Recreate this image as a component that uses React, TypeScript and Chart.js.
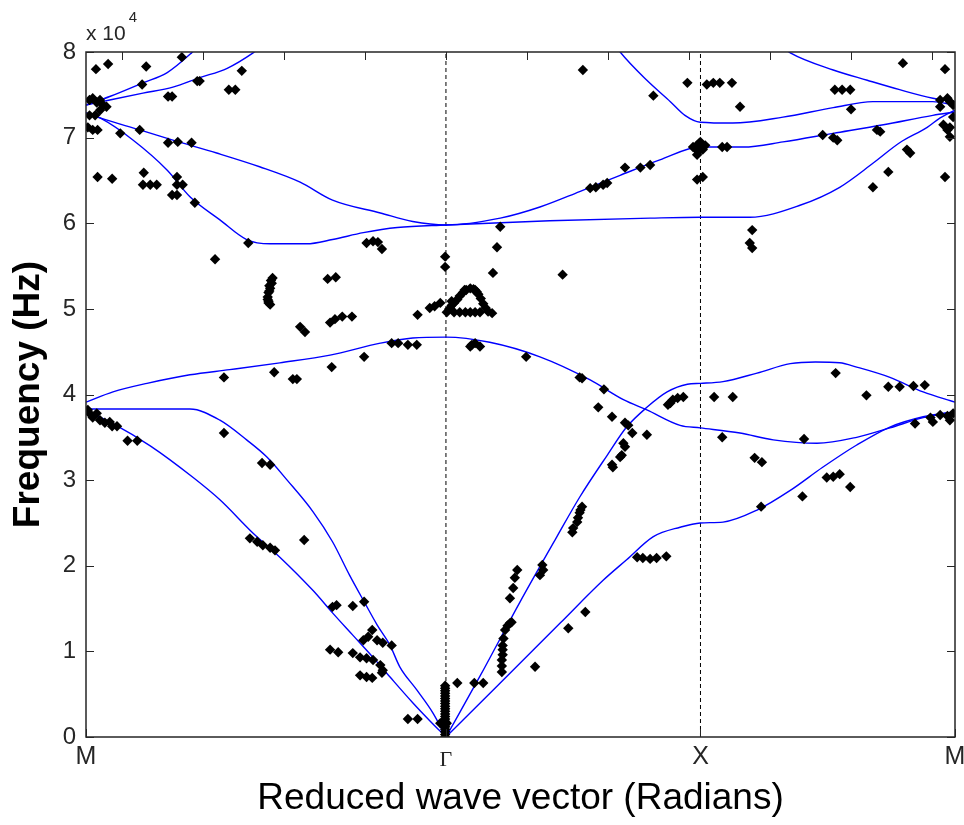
import React, { useEffect, useRef } from 'react';
import { Chart, registerables } from 'chart.js';

Chart.register(...registerables);

type P = [number, number];

// Symmetry points (reduced wave vector, radians)
const M_LEFT = -Math.SQRT2 * Math.PI;
const GAMMA = 0;
const X_POINT = Math.PI;
const M_RIGHT = 2 * Math.PI;

const symmetryPositions = [M_LEFT, GAMMA, X_POINT, M_RIGHT];
const symmetryLabels = ['M', 'Γ', 'X', 'M'];
const topTickValues = [-4, -3, -2, -1, 0, 1, 2, 3, 4, 5, 6];
const freqTicks = [0, 10000, 20000, 30000, 40000, 50000, 60000, 70000, 80000];

// Computed dispersion bands (Hz)
const band1: P[] = [
  [M_LEFT, 38100], [-4.11, 36600], [-3.65, 34000], [-3.12, 30300], [-2.79, 27700],
  [-2.38, 23800], [-2.05, 21000], [-1.64, 17100], [-1.4, 14500], [-1.15, 11900],
  [-0.9, 9300], [-0.69, 7000], [-0.41, 4000], [-0.2, 1900], [0, 0],
];
const band2: P[] = [
  [M_LEFT, 38300], [-3.78, 38300], [-3.16, 38300], [-2.79, 37000], [-2.46, 34700],
  [-2.21, 32700], [-1.96, 30000], [-1.64, 26300], [-1.4, 22800], [-1.19, 18900],
  [-1.01, 15800], [-0.85, 13100], [-0.69, 10700], [-0.57, 8200], [-0.36, 5500],
  [-0.16, 2800], [0, 0],
];
const band3: P[] = [
  [M_LEFT, 39100], [-4.11, 40300], [-3.69, 41300], [-3.16, 42300], [-2.67, 42900],
  [-2.05, 43700], [-1.43, 44600], [-0.81, 46000], [-0.41, 46600], [0, 46700],
  [0.54, 46100], [1.16, 44400], [1.78, 41700], [2.19, 39400], [2.48, 38200],
  [2.89, 36400], [3.14, 36100], [3.63, 35500], [4.04, 34700], [4.58, 34300],
  [5.07, 35000], [5.48, 36100], [5.89, 37300], [M_RIGHT, 38000],
];
const band4: P[] = [
  [0, 0], [0.67, 6300], [1.41, 13300], [1.94, 18300], [2.23, 20700], [2.56, 23400],
  [2.89, 24500], [3.14, 25000], [3.42, 25100], [3.84, 26500], [4.25, 28800],
  [4.65, 31500], [5.07, 34100], [5.48, 36200], [5.89, 37400], [M_RIGHT, 38000],
];
const band5: P[] = [
  [0, 0], [0.42, 7100], [0.91, 15700], [1.37, 23400], [1.65, 28000], [1.99, 32900],
  [2.23, 36200], [2.48, 38500], [2.73, 40300], [2.98, 41200], [3.14, 41300],
  [3.42, 41500], [3.84, 42500], [4.25, 43600], [4.56, 43800], [4.86, 43700],
  [5.07, 43200], [5.48, 42000], [5.89, 40300], [M_RIGHT, 39100],
];
const band6: P[] = [
  [M_LEFT, 72900], [-4.27, 72300], [-3.86, 69700], [-3.44, 66200], [-3.16, 63100],
  [-2.79, 60400], [-2.46, 58100], [-2.17, 57600], [-1.72, 57600], [-1.4, 58100],
  [-1.02, 58900], [-0.6, 59500], [0, 59800], [1.28, 60300], [2.52, 60600],
  [3.14, 60700], [3.75, 60700], [4.37, 62100], [4.86, 64200], [5.27, 67000],
  [5.6, 69400], [5.94, 71200], [6.1, 72300], [M_RIGHT, 73200],
];
const band7: P[] = [
  [M_LEFT, 72900], [-4.27, 72300], [-3.78, 70900], [-3.37, 69700], [-2.83, 68200],
  [-2.3, 66600], [-1.8, 64800], [-1.4, 62700], [-0.81, 61200], [-0.41, 60200],
  [0, 59800], [0.67, 60600], [1.16, 61900], [1.65, 63700], [2.15, 65600],
  [2.64, 67400], [3.14, 68900], [3.67, 68900], [4.16, 69500], [4.78, 70500],
  [5.4, 71500], [6.01, 72600], [M_RIGHT, 73000],
];
const band8: P[] = [
  [M_LEFT, 73800], [-4.15, 74800], [-3.74, 76400], [-3.44, 77600], [-3.14, 79900], [-2.98, 81400],
];
const band9: P[] = [
  [M_LEFT, 73800], [-4.15, 74400], [-3.74, 75200], [-3.37, 75900], [-3.04, 77000],
  [-2.7, 78100], [-2.38, 79900], [-2.27, 80700],
];
const band10: P[] = [
  [2.09, 80800], [2.15, 80000], [2.48, 76700], [2.77, 74200], [2.95, 72600],
  [3.14, 71800], [3.54, 71700], [4.16, 72400], [4.78, 73500], [5.27, 74200],
  [6.01, 74200], [M_RIGHT, 73800],
];
const band11: P[] = [
  [4.12, 80800], [4.25, 79900], [4.78, 77900], [5.2, 76700], [5.6, 75600],
  [6.01, 74600], [M_RIGHT, 74200],
];

// Measured resonances (Hz)
const measuredMG: P[] = [
  [-4.32, 78000], [-4.17, 78600], [-3.7, 78300], [-3.26, 79400], [-3.75, 76200],
  [-3.43, 74800], [-3.38, 74800], [-3.07, 76600], [-3.04, 76600], [-2.68, 75600],
  [-2.6, 75600], [-2.52, 77800],
  [-4.36, 74600], [-4.27, 74400], [-4.23, 73800], [-4.19, 73600], [-4.33, 72600],
  [-4.4, 72600], [-4.36, 70900], [-4.42, 71200], [-4.3, 70900], [-4.4, 74400],
  [-4.31, 74100], [-4.27, 73200],
  [-4.02, 70500], [-3.78, 70900], [-3.43, 69400], [-3.31, 69500], [-3.14, 69400],
  [-4.3, 65400], [-4.12, 65200], [-3.73, 65900], [-3.74, 64500], [-3.65, 64500],
  [-3.57, 64500], [-3.32, 65400], [-3.32, 64500], [-3.25, 64500], [-3.38, 63300],
  [-3.32, 63300], [-3.1, 62400],
  [-2.44, 57700], [-2.85, 55800], [-0.98, 57700], [-0.9, 57900], [-0.84, 57800], [-0.79, 57000],
  [-2.14, 53600], [-2.16, 53300], [-2.15, 53000], [-2.18, 52700], [-2.17, 52400],
  [-2.18, 52100], [-2.19, 51900], [-2.2, 51400], [-2.2, 51100], [-2.19, 50900],
  [-2.19, 50700], [-2.17, 50500],
  [-1.46, 53500], [-1.36, 53700], [-1.8, 47900], [-1.74, 47300], [-1.43, 48400],
  [-1.37, 48800], [-1.28, 49100], [-1.16, 49100],
  [-0.35, 49300], [-0.2, 50100], [-0.14, 50300], [-0.07, 50700],
  [-0.67, 46000], [-0.59, 46000], [-0.47, 45800], [-0.36, 45800], [-1.01, 44400],
  [-1.41, 43200], [-2.12, 42600], [-2.74, 42000], [-1.89, 41800], [-1.84, 41800],
  [-4.4, 37800], [-4.31, 37800], [-4.36, 37300], [-4.27, 37000], [-4.21, 36700],
  [-4.15, 36800], [-4.12, 36300], [-4.06, 36300], [-4.42, 38200],
  [-3.93, 34600], [-3.81, 34600], [-2.74, 35500], [-2.27, 32000], [-2.17, 31800],
  [-2.42, 23200], [-2.33, 22800], [-2.26, 22400], [-2.17, 22100], [-2.11, 21800], [-1.75, 23000],
  [-1.4, 15200], [-1.35, 15400], [-1.15, 15300], [-1.01, 15800],
  [-0.91, 12500], [-0.96, 11700], [-0.85, 11300], [-0.78, 11000], [-0.67, 10700], [-1.02, 11300],
  [-1.43, 10200], [-1.33, 9900], [-1.15, 9800], [-1.06, 9300], [-0.98, 9200],
  [-0.9, 9000], [-0.81, 8400], [-0.78, 7800], [-0.79, 7500],
  [-1.06, 7200], [-0.98, 7000], [-0.91, 6900], [-0.47, 2100], [-0.35, 2100], [-0.07, 1600],
];
const gammaColumnY = [
  0, 300, 600, 900, 1200, 1500, 1800, 2100, 2400, 2700, 3000, 3300, 3600, 3900,
  4200, 4500, 4800, 5100, 5400, 5700, 6000,
];
const measuredGX: P[] = [
  [-0.01, 56100], [-0.01, 54900], [0.63, 57200], [0.58, 54200], [0.67, 59600],
  [0.01, 49600], [0.04, 50000], [0.07, 50400], [0.1, 50700], [0.14, 51100], [0.17, 51500],
  [0.21, 51900], [0.25, 52200], [0.3, 52400], [0.34, 52300], [0.38, 52000], [0.4, 51700],
  [0.43, 51200], [0.46, 50600], [0.49, 50100], [0.52, 49700], [0.1, 49600], [0.17, 49600],
  [0.24, 49600], [0.3, 49600], [0.36, 49600], [0.42, 49600], [0.57, 49500], [0.07, 50900],
  [0.23, 52200], [0.36, 52200],
  [0.3, 45600], [0.32, 45800], [0.36, 46000], [0.42, 45600], [0.99, 44400], [1.65, 42000],
  [1.68, 41900], [1.95, 40600], [1.88, 38500], [2.05, 37400], [2.21, 36700], [2.25, 36400],
  [2.3, 35500], [2.48, 35300], [2.19, 34300], [2.21, 33900], [2.17, 32900], [2.15, 32700],
  [2.05, 31800], [2.06, 31500],
  [2.74, 38800], [2.77, 39000], [2.8, 39400], [2.86, 39600], [2.93, 39700],
  [1.68, 26900], [1.66, 26500], [1.65, 26200], [1.63, 25600], [1.62, 25100], [1.57, 24400], [1.56, 23900],
  [1.19, 20100], [1.2, 19500], [1.16, 18900],
  [2.36, 21000], [2.43, 20900], [2.52, 20800], [2.6, 20900], [2.72, 21100],
  [0.85, 18600], [0.88, 19500], [0.83, 17400], [0.79, 16200],
  [0.69, 7600], [0.69, 8300], [0.69, 9000], [0.7, 9600], [0.7, 10200], [0.7, 10700],
  [0.71, 11500], [0.73, 12500], [0.76, 13000], [0.79, 13300], [0.81, 13400],
  [0.14, 6300], [0.35, 6300], [0.46, 6300], [1.1, 8200], [1.51, 12700], [1.72, 14600], [0.01, 1600],
  [1.44, 54000], [1.69, 77900], [1.78, 64100], [1.85, 64200], [1.94, 64500], [1.99, 64700],
  [2.21, 66500], [2.4, 66500], [2.52, 66800], [2.56, 74900], [2.98, 76400],
  [3.1, 69100], [3.14, 68900], [3.17, 68600], [3.05, 68900], [3.14, 69500], [3.2, 69100],
  [3.12, 69300], [3.16, 69200], [3.08, 68700], [3.12, 68400], [3.18, 68900],
  [3.1, 68000], [3.17, 65400], [3.1, 65100],
];
const measuredXM: P[] = [
  [3.22, 76200], [3.3, 76400], [3.38, 76400], [3.53, 76400], [3.63, 73600], [3.41, 68900], [3.47, 68900],
  [3.78, 59200], [3.75, 57700], [3.78, 57100],
  [4.8, 75600], [4.89, 75600], [4.99, 75600], [5.0, 73300], [4.65, 70300], [4.78, 70000],
  [4.83, 69700], [5.32, 70900], [5.36, 70700], [5.69, 68600], [5.73, 68200], [5.46, 66000],
  [5.27, 64200], [5.64, 78700], [6.16, 78000], [6.16, 65400],
  [6.1, 74400], [6.19, 74600], [6.22, 74200], [6.1, 73600], [6.14, 71500], [6.22, 71200],
  [6.26, 72400], [6.19, 70900], [6.22, 70100], [6.26, 73800],
  [3.31, 39700], [3.54, 39700], [3.41, 35000], [3.81, 32600], [3.9, 32100], [4.4, 28100],
  [3.89, 26900], [4.7, 30300], [4.78, 30400], [4.86, 30700], [4.99, 29200], [4.42, 34800],
  [4.81, 42500], [5.19, 39900], [5.46, 40900], [5.6, 40900], [5.77, 41000], [5.91, 41100],
  [5.79, 36600], [5.98, 37300], [6.1, 37600], [6.19, 37500], [6.26, 37800], [6.01, 36800], [6.22, 37000],
];

const FONT = '"Liberation Sans", Arial, Helvetica, sans-serif';
const INK = '#262626';

const toXY = (pts: P[]) => pts.map(([x, y]) => ({ x, y }));

const framePlugin = {
  id: 'matlabFrame',
  afterDraw(chart: any) {
    const { ctx, chartArea: a, scales } = chart;
    const xs = scales.x;
    const ys = scales.y;
    const L = 8;
    ctx.save();
    ctx.strokeStyle = INK;
    ctx.lineWidth = 1;
    ctx.beginPath();
    freqTicks.forEach((v) => {
      const p = Math.round(ys.getPixelForValue(v)) + 0.5;
      ctx.moveTo(a.left, p);
      ctx.lineTo(a.left + L, p);
      ctx.moveTo(a.right, p);
      ctx.lineTo(a.right - L, p);
    });
    topTickValues.forEach((v) => {
      const p = Math.round(xs.getPixelForValue(v)) + 0.5;
      ctx.moveTo(p, a.top);
      ctx.lineTo(p, a.top + L);
    });
    symmetryPositions.forEach((v) => {
      const p = Math.round(xs.getPixelForValue(v)) + 0.5;
      ctx.moveTo(p, a.bottom);
      ctx.lineTo(p, a.bottom - L);
    });
    ctx.stroke();
    ctx.lineWidth = 1.5;
    ctx.strokeRect(a.left, a.top, a.right - a.left, a.bottom - a.top);
    ctx.fillStyle = INK;
    ctx.textAlign = 'left';
    ctx.textBaseline = 'alphabetic';
    ctx.font = `21px ${FONT}`;
    ctx.fillText('x 10', a.left, a.top - 12);
    const w = ctx.measureText('x 10').width;
    ctx.font = `15px ${FONT}`;
    ctx.fillText('4', a.left + w + 3, a.top - 30);
    ctx.restore();
  },
};

const bandSets = [band1, band2, band3, band4, band5, band6, band7, band8, band9, band10, band11];

export default function App() {
  const ref = useRef<HTMLCanvasElement>(null);

  useEffect(() => {
    const canvas = ref.current;
    if (!canvas) return;
    Chart.defaults.font.family = FONT;

    const bandDatasets = bandSets.map((b, i) => ({
      label: `band ${i + 1}`,
      data: toXY(b),
      borderColor: '#0000ff',
      backgroundColor: '#0000ff',
      borderWidth: 1.4,
      pointRadius: 0,
      showLine: true,
      fill: false,
      cubicInterpolationMode: 'monotone' as const,
      order: 1,
    }));

    const markerStyle = {
      showLine: false,
      pointStyle: 'rectRot' as const,
      pointRadius: 5.2,
      pointBorderWidth: 0,
      pointBackgroundColor: '#000',
      pointBorderColor: '#000',
      borderColor: '#000',
      backgroundColor: '#000',
      clip: 0,
      order: 0,
    };

    const dashed = (xv: number) => ({
      label: 'sym',
      data: [{ x: xv, y: 0 }, { x: xv, y: 80000 }],
      borderColor: '#000',
      borderWidth: 1,
      borderDash: [4, 3],
      pointRadius: 0,
      showLine: true,
      fill: false,
      order: 2,
    });

    const chart = new Chart(canvas, {
      type: 'line',
      data: {
        datasets: [
          dashed(GAMMA),
          dashed(X_POINT),
          ...bandDatasets,
          { label: 'meas MG', data: toXY(measuredMG), ...markerStyle },
          { label: 'meas G', data: gammaColumnY.map((y) => ({ x: -0.01, y })), ...markerStyle },
          { label: 'meas GX', data: toXY(measuredGX), ...markerStyle },
          { label: 'meas XM', data: toXY(measuredXM), ...markerStyle },
        ] as any,
      },
      options: {
        animation: false,
        responsive: false,
        devicePixelRatio: 1,
        layout: { padding: { top: 52, right: 9, bottom: 0, left: 0 } },
        plugins: { legend: { display: false }, tooltip: { enabled: false } },
        scales: {
          x: {
            type: 'linear',
            position: 'bottom',
            min: M_LEFT,
            max: M_RIGHT,
            grid: { display: false, drawTicks: false },
            border: { display: false },
            afterBuildTicks: (axis: any) => {
              axis.ticks = symmetryPositions.map((v) => ({ value: v }));
            },
            ticks: {
              autoSkip: false,
              maxRotation: 0,
              minRotation: 0,
              padding: 5,
              color: INK,
              callback: (_v: any, i: number) => symmetryLabels[i],
              font: (c: any) =>
                c.index === 1
                  ? { family: '"Liberation Serif", "Times New Roman", serif', size: 22, lineHeight: 1.65 }
                  : { family: FONT, size: 25 },
            },
            title: {
              display: true,
              text: 'Reduced wave vector (Radians)',
              color: '#000',
              font: { family: FONT, size: 37 },
              padding: { top: 0, bottom: 4 },
            },
            afterFit: (s: any) => {
              s.height = 88;
              s.paddingLeft = 0;
              s.paddingRight = 0;
            },
          },
          y: {
            type: 'linear',
            min: 0,
            max: 80000,
            grid: { display: false, drawTicks: false },
            border: { display: false },
            afterBuildTicks: (axis: any) => {
              axis.ticks = freqTicks.map((v) => ({ value: v }));
            },
            ticks: {
              padding: 10,
              color: INK,
              font: { family: FONT, size: 24 },
              callback: (v: any) => String(Number(v) / 10000),
            },
            title: {
              display: true,
              text: 'Frequency (Hz)',
              color: '#000',
              font: { family: FONT, size: 37, weight: 'bold' },
              padding: { top: 7, bottom: 0 },
            },
            afterFit: (s: any) => {
              s.width = 86;
              s.paddingTop = 0;
              s.paddingBottom = 0;
            },
          },
        },
      } as any,
      plugins: [framePlugin],
    });

    return () => chart.destroy();
  }, []);

  return (
    <div style={{ position: 'absolute', left: 0, top: 0, width: 964, height: 825, background: '#fff' }}>
      <canvas ref={ref} width={964} height={825} style={{ display: 'block', width: 964, height: 825 }} />
    </div>
  );
}
